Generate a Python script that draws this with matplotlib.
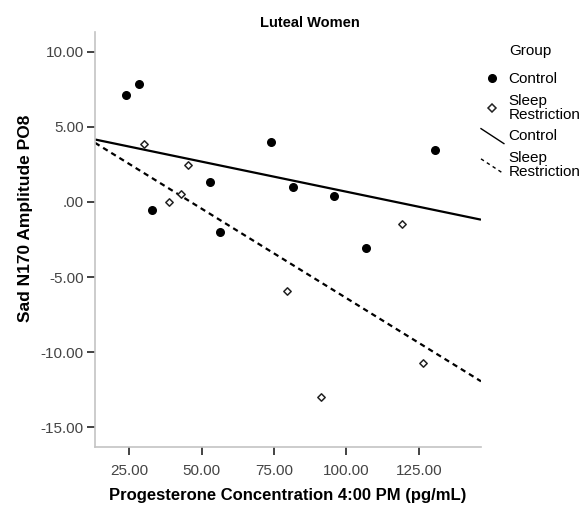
import numpy as np
import matplotlib
matplotlib.use("Agg")
import matplotlib.pyplot as plt
from matplotlib.lines import Line2D
from matplotlib.legend_handler import HandlerBase
from matplotlib.ticker import FuncFormatter

plt.rcParams['font.family'] = ['Liberation Sans', 'DejaVu Sans']

# values
control_x = [23.9, 28.2, 32.8, 53.0, 56.3, 73.8, 81.7, 95.6, 106.7, 130.7]
control_y = [7.11, 7.85, -0.53, 1.30, -1.98, 4.02, 1.00, 0.40, -3.05, 3.45]
sleep_x = [30.0, 38.7, 42.9, 45.4, 79.5, 91.2, 119.1, 126.5]
sleep_y = [3.85, -0.02, 0.51, 2.49, -5.91, -12.98, -1.47, -10.71]

x_ticks = [25, 50, 75, 100, 125]
y_ticks = [-15, -10, -5, 0, 5, 10]
x_lim = (13.15, 146.5)
y_lim = (-16.33, 11.33)


class HandlerDiag(HandlerBase):
    # SPSS draws the fit line sample as a diagonal stroke
    def create_artists(self, legend, orig_handle, xdescent, ydescent,
                       width, height, fontsize, trans):
        ln = Line2D([-xdescent, -xdescent + width],
                    [-ydescent + height * 1.1, -ydescent - height * 0.3])
        ln.update_from(orig_handle)
        ln.set_transform(trans)
        return [ln]


def fmt(v, pos):
    s = "%.2f" % v
    if s == "0.00":
        s = ".00"
    return s


fig = plt.figure(figsize=(5.87, 5.08), dpi=100)
ax = fig.add_axes([95/587, 61/508, 386/587, 415/508])

ax.scatter(control_x, control_y, s=30, c="black", marker="o", zorder=3)
ax.scatter(sleep_x, sleep_y, s=14, facecolors="white", edgecolors="#222222",
           marker="D", linewidths=1.1, zorder=3)

xs = np.array(x_lim)
k1, b1 = np.polyfit(control_x, control_y, 1)
k2, b2 = np.polyfit(sleep_x, sleep_y, 1)
ax.plot(xs, k1 * xs + b1, color="black", lw=1.6, solid_capstyle="butt")
ax.plot(xs, k2 * xs + b2, color="black", lw=1.6, linestyle=(0, (2.4, 1.9)))

ax.set_xlim(*x_lim)
ax.set_ylim(*y_lim)
ax.set_xticks(x_ticks)
ax.set_yticks(y_ticks)
ax.xaxis.set_major_formatter(FuncFormatter(fmt))
ax.yaxis.set_major_formatter(FuncFormatter(fmt))
ax.tick_params(direction="out", length=6, width=1.2, color="#222222",
               labelsize=11, labelcolor="#444444")
ax.tick_params(axis="x", pad=6)
ax.tick_params(axis="y", pad=2)

for side in ["top", "right"]:
    ax.spines[side].set_visible(False)
for side in ["left", "bottom"]:
    ax.spines[side].set_color("#c4c4c4")
    ax.spines[side].set_linewidth(1.2)

ax.set_xlabel("Progesterone Concentration 4:00 PM (pg/mL)", fontsize=12,
              fontweight="bold")
ax.set_ylabel("Sad N170 Amplitude PO8", fontsize=12.5, fontweight="bold")
ax.xaxis.set_label_coords(0.5, -0.098)
ax.yaxis.set_label_coords(-0.161, 0.552)

fig.text(310/587, 1 - 23/508, "Luteal Women", fontsize=10.5,
         fontweight="bold", ha="center", va="center")

handles = [
    Line2D([], [], marker="o", color="black", ls="none", markersize=5.5),
    Line2D([], [], marker="D", markerfacecolor="white", markeredgecolor="#222222",
           ls="none", markersize=3.8, markeredgewidth=1.1),
    Line2D([], [], color="black", lw=1.0),
    Line2D([], [], color="black", lw=1.0, ls=(0, (2.5, 2.5))),
]
labels = ["Control", "Sleep\nRestriction", "Control", "Sleep\nRestriction"]
leg = ax.legend(handles, labels, title="Group", loc="upper left",
                bbox_to_anchor=(481/587, 1 - 44/508),
                bbox_transform=fig.transFigure, frameon=False,
                fontsize=11, title_fontsize=11, handlelength=1.5,
                handletextpad=0.3, labelspacing=0.5, borderpad=0,
                borderaxespad=0,
                handler_map={handles[2]: HandlerDiag(), handles[3]: HandlerDiag()})
for t in leg.get_texts():
    t.set_linespacing(1.02)
# a bit more room under the "Group" title, as in the original
leg._legend_box.sep += 4.5

fig.savefig("out.png", dpi=100)
